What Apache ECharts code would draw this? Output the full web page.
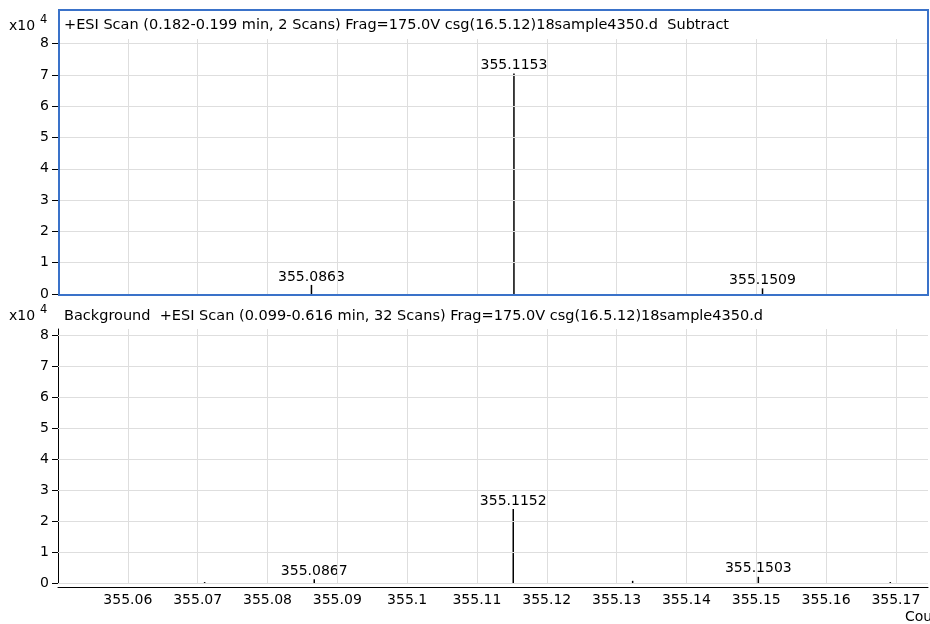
<!DOCTYPE html>
<html>
<head>
<meta charset="utf-8">
<script src="https://cdn.jsdelivr.net/npm/echarts@6/dist/echarts.min.js"></script>
<style>html,body{margin:0;padding:0;background:#fff}#c{width:930px;height:624px}</style>
</head>
<body>
<div id="c"></div>
<script>
const topTitle = '+ESI Scan (0.182-0.199 min, 2 Scans) Frag=175.0V csg(16.5.12)18sample4350.d  Subtract';
const bottomTitle = 'Background  +ESI Scan (0.099-0.616 min, 32 Scans) Frag=175.0V csg(16.5.12)18sample4350.d';
const xAxisTitle = 'Counts vs. Mass-to-Charge (m/z)';
const topMz = [355.0863, 355.1153, 355.1509];
const topCounts = [2900, 70500, 1800];
const topLabeled = [true, true, true];
const bottomMz = [355.0710, 355.0867, 355.1152, 355.1323, 355.1503, 355.1692];
const bottomCounts = [300, 1200, 23900, 700, 2000, 300];
const bottomLabeled = [false, true, true, false, true, false];
const xTicks = [355.06, 355.07, 355.08, 355.09, 355.10, 355.11, 355.12, 355.13, 355.14, 355.15, 355.16, 355.17];
const yTicks = [0, 10000, 20000, 30000, 40000, 50000, 60000, 70000, 80000];

const FONT = '"DejaVu Sans", "Liberation Sans", sans-serif';
const GRID_COLOR = '#dedede';

function peakData(mz, counts, labeled) {
  return mz.map((m, i) => [m, counts[i], labeled[i] ? 1 : 0]);
}
function renderPeak(params, api) {
  const x = api.value(0), y = api.value(1);
  const p0 = api.coord([x, 0]);
  const p1 = api.coord([x, y]);
  const children = [{
    type: 'line',
    shape: { x1: p0[0], y1: p0[1], x2: p1[0], y2: p1[1] },
    style: { stroke: '#000', lineWidth: 1.5 }
  }];
  if (api.value(2)) {
    children.push({
      type: 'text',
      style: {
        text: x.toFixed(4), x: p1[0], y: p1[1] - 1,
        align: 'center', verticalAlign: 'bottom',
        fontSize: 14, fontFamily: FONT, fill: '#000'
      }
    });
  }
  return { type: 'group', children };
}
function gridMarkLines() {
  const data = xTicks.map(v => ({ xAxis: v })).concat(yTicks.map(v => ({ yAxis: v })));
  return {
    silent: true, symbol: ['none', 'none'], label: { show: false },
    lineStyle: { color: GRID_COLOR, type: 'solid', width: 1 },
    emphasis: { disabled: true },
    animation: false,
    data
  };
}
function xAxisCfg(idx, showLabels) {
  return {
    gridIndex: idx, type: 'value', min: 355.05, max: 355.1746,
    axisLine: { show: showLabels, onZero: false, lineStyle: { color: '#000', width: 1 } },
    offset: showLabels ? 4 : 0,
    axisTick: { show: false },
    splitLine: { show: false },
    axisLabel: {
      show: showLabels, customValues: xTicks, color: '#000', fontSize: 14, fontFamily: FONT, margin: 6,
      formatter: v => String(+v.toFixed(2))
    }
  };
}
function yAxisCfg(idx, max) {
  return {
    gridIndex: idx, type: 'value', min: 0, max: max,
    axisLine: { show: true, lineStyle: { color: '#000', width: 1 } },
    axisTick: { show: true, inside: false, length: 6, customValues: yTicks, lineStyle: { color: '#000' } },
    splitLine: { show: false },
    axisLabel: {
      customValues: yTicks, color: '#000', fontSize: 14, fontFamily: FONT, margin: 9,
      formatter: v => String(Math.round(v / 10000))
    }
  };
}

const chart = echarts.init(document.getElementById('c'), null, { renderer: 'canvas' });
chart.setOption({
  animation: false,
  backgroundColor: '#fff',
  grid: [
    { left: 58, top: 39, width: 870, height: 255 },
    { left: 58, top: 329, width: 870, height: 254 }
  ],
  xAxis: [xAxisCfg(0, false), xAxisCfg(1, true)],
  yAxis: [yAxisCfg(0, 81500), yAxisCfg(1, 82000)],
  series: [
    { type: 'custom', xAxisIndex: 0, yAxisIndex: 0, renderItem: renderPeak, data: peakData(topMz, topCounts, topLabeled), markLine: gridMarkLines(), z: 3 },
    { type: 'custom', xAxisIndex: 1, yAxisIndex: 1, renderItem: renderPeak, data: peakData(bottomMz, bottomCounts, bottomLabeled), markLine: gridMarkLines(), z: 3 }
  ],
  graphic: [
    { type: 'rect', shape: { x: 59, y: 10, width: 869, height: 285 }, style: { fill: 'none', stroke: '#3a72c9', lineWidth: 2 }, z: 10, silent: true },
    { type: 'text', x: 64, y: 25, style: { text: topTitle, fontSize: 14.5, fontFamily: FONT, fill: '#000', verticalAlign: 'middle' } },
    { type: 'text', x: 64, y: 316, style: { text: bottomTitle, fontSize: 14.5, fontFamily: FONT, fill: '#000', verticalAlign: 'middle' } },
    { type: 'text', x: 9, y: 26, style: { text: 'x10', fontSize: 14, fontFamily: FONT, fill: '#000', verticalAlign: 'middle' } },
    { type: 'text', x: 40, y: 20, style: { text: '4', fontSize: 11.5, fontFamily: FONT, fill: '#000', verticalAlign: 'middle' } },
    { type: 'text', x: 9, y: 316, style: { text: 'x10', fontSize: 14, fontFamily: FONT, fill: '#000', verticalAlign: 'middle' } },
    { type: 'text', x: 40, y: 310, style: { text: '4', fontSize: 11.5, fontFamily: FONT, fill: '#000', verticalAlign: 'middle' } },
    { type: 'text', x: 905, y: 617, style: { text: xAxisTitle, fontSize: 14, fontFamily: FONT, fill: '#000', verticalAlign: 'middle' } }
  ]
});
</script>
</body>
</html>
